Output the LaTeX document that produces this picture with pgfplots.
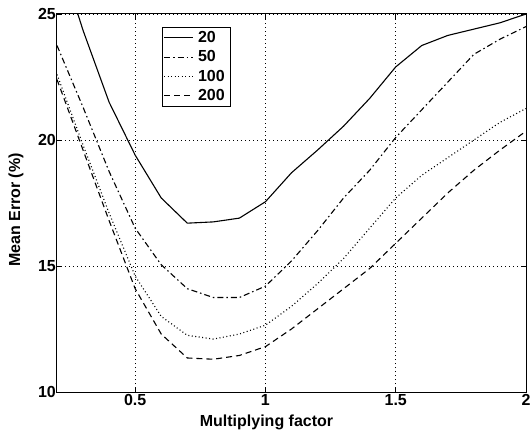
\documentclass[border=0pt]{standalone}
\usepackage{fontspec}
\setmainfont{Liberation Sans}
\usepackage{pgfplots}
\pgfplotsset{compat=1.18}
\begin{document}
\begin{tikzpicture}
\begin{axis}[
    scale only axis,
    width=469pt, height=378pt,
    xmin=0.2, xmax=2, ymin=10, ymax=25,
    xtick={0.5,1,1.5,2}, ytick={10,15,20,25},
    xticklabels={0.5,1,1.5,2},
    tick align=inside, major tick length=5pt,
    xtick pos=both, ytick pos=both,
    grid=major,
    major grid style={black, line width=0.6pt, dash pattern=on 1pt off 3pt},
    axis line style={black, line width=1pt},
    every tick/.style={black, line width=0.8pt},
    /pgf/number format/assume math mode=true,
    tick label style={font=\fontsize{16}{17}\selectfont\bfseries},
    yticklabel style={inner sep=1pt},
    xticklabel style={inner sep=2pt},
    label style={font=\fontsize{16}{17}\selectfont\bfseries},
    xlabel={Multiplying factor}, ylabel={Mean Error (\%)},
    xlabel style={at={(axis description cs:0.5,0)}, anchor=north, yshift=-23pt, xshift=-25pt, inner sep=0pt},
    ylabel style={at={(axis description cs:0,0.5)}, anchor=center, yshift=41pt, xshift=-7pt, inner sep=0pt},
    legend cell align=left,
    legend style={at={(0.224,0.966)}, anchor=north west,
        draw=black, line width=0.8pt, font=\fontsize{16}{16}\selectfont\bfseries,
        inner sep=1pt, row sep=0pt,
        nodes={inner xsep=4.5pt, inner ysep=3.3pt}},
    legend image code/.code={\draw[#1] (4pt,0pt) -- (33pt,0pt);},
    clip=true,
]
\addplot[black, line width=1.1pt] coordinates {
(0.2,27.6) (0.3,24.35) (0.4,21.5) (0.5,19.4) (0.6,17.7) (0.7,16.7) (0.8,16.75) (0.9,16.9) (1.0,17.55) (1.1,18.7) (1.2,19.6) (1.3,20.55) (1.4,21.65) (1.5,22.9) (1.6,23.75) (1.7,24.15) (1.8,24.4) (1.9,24.65) (2.0,25.0)};
\addlegendentry{20}
\addplot[black, line width=1.1pt, dash pattern=on 6pt off 3pt on 1.5pt off 3pt] coordinates {
(0.2,23.75) (0.3,21.3) (0.4,18.75) (0.5,16.5) (0.6,15.05) (0.7,14.1) (0.8,13.75) (0.9,13.75) (1.0,14.2) (1.1,15.2) (1.2,16.4) (1.3,17.7) (1.4,18.8) (1.5,20.1) (1.6,21.2) (1.7,22.3) (1.8,23.4) (1.9,24.0) (2.0,24.5)};
\addlegendentry{50}
\addplot[black, line width=1.1pt, dash pattern=on 1pt off 2.5pt] coordinates {
(0.2,22.6) (0.3,19.8) (0.4,17.1) (0.5,14.6) (0.6,13.0) (0.7,12.25) (0.8,12.1) (0.9,12.3) (1.0,12.65) (1.1,13.4) (1.2,14.3) (1.3,15.3) (1.4,16.5) (1.5,17.7) (1.6,18.6) (1.7,19.3) (1.8,20.0) (1.9,20.7) (2.0,21.25)};
\addlegendentry{100}
\addplot[black, line width=1.1pt, dash pattern=on 6pt off 4pt] coordinates {
(0.2,22.4) (0.3,19.6) (0.4,16.8) (0.5,14.1) (0.6,12.3) (0.7,11.35) (0.8,11.3) (0.9,11.45) (1.0,11.8) (1.1,12.5) (1.2,13.3) (1.3,14.1) (1.4,14.9) (1.5,15.9) (1.6,16.9) (1.7,17.9) (1.8,18.8) (1.9,19.6) (2.0,20.35)};
\addlegendentry{200}
\end{axis}
\pgfresetboundingbox
\path (current axis.south west) ++(-57pt,-44pt) coordinate (bl);
\path (current axis.north east) ++(6pt,14pt) coordinate (tr);
\path (bl) rectangle (tr);
\end{tikzpicture}
\end{document}
